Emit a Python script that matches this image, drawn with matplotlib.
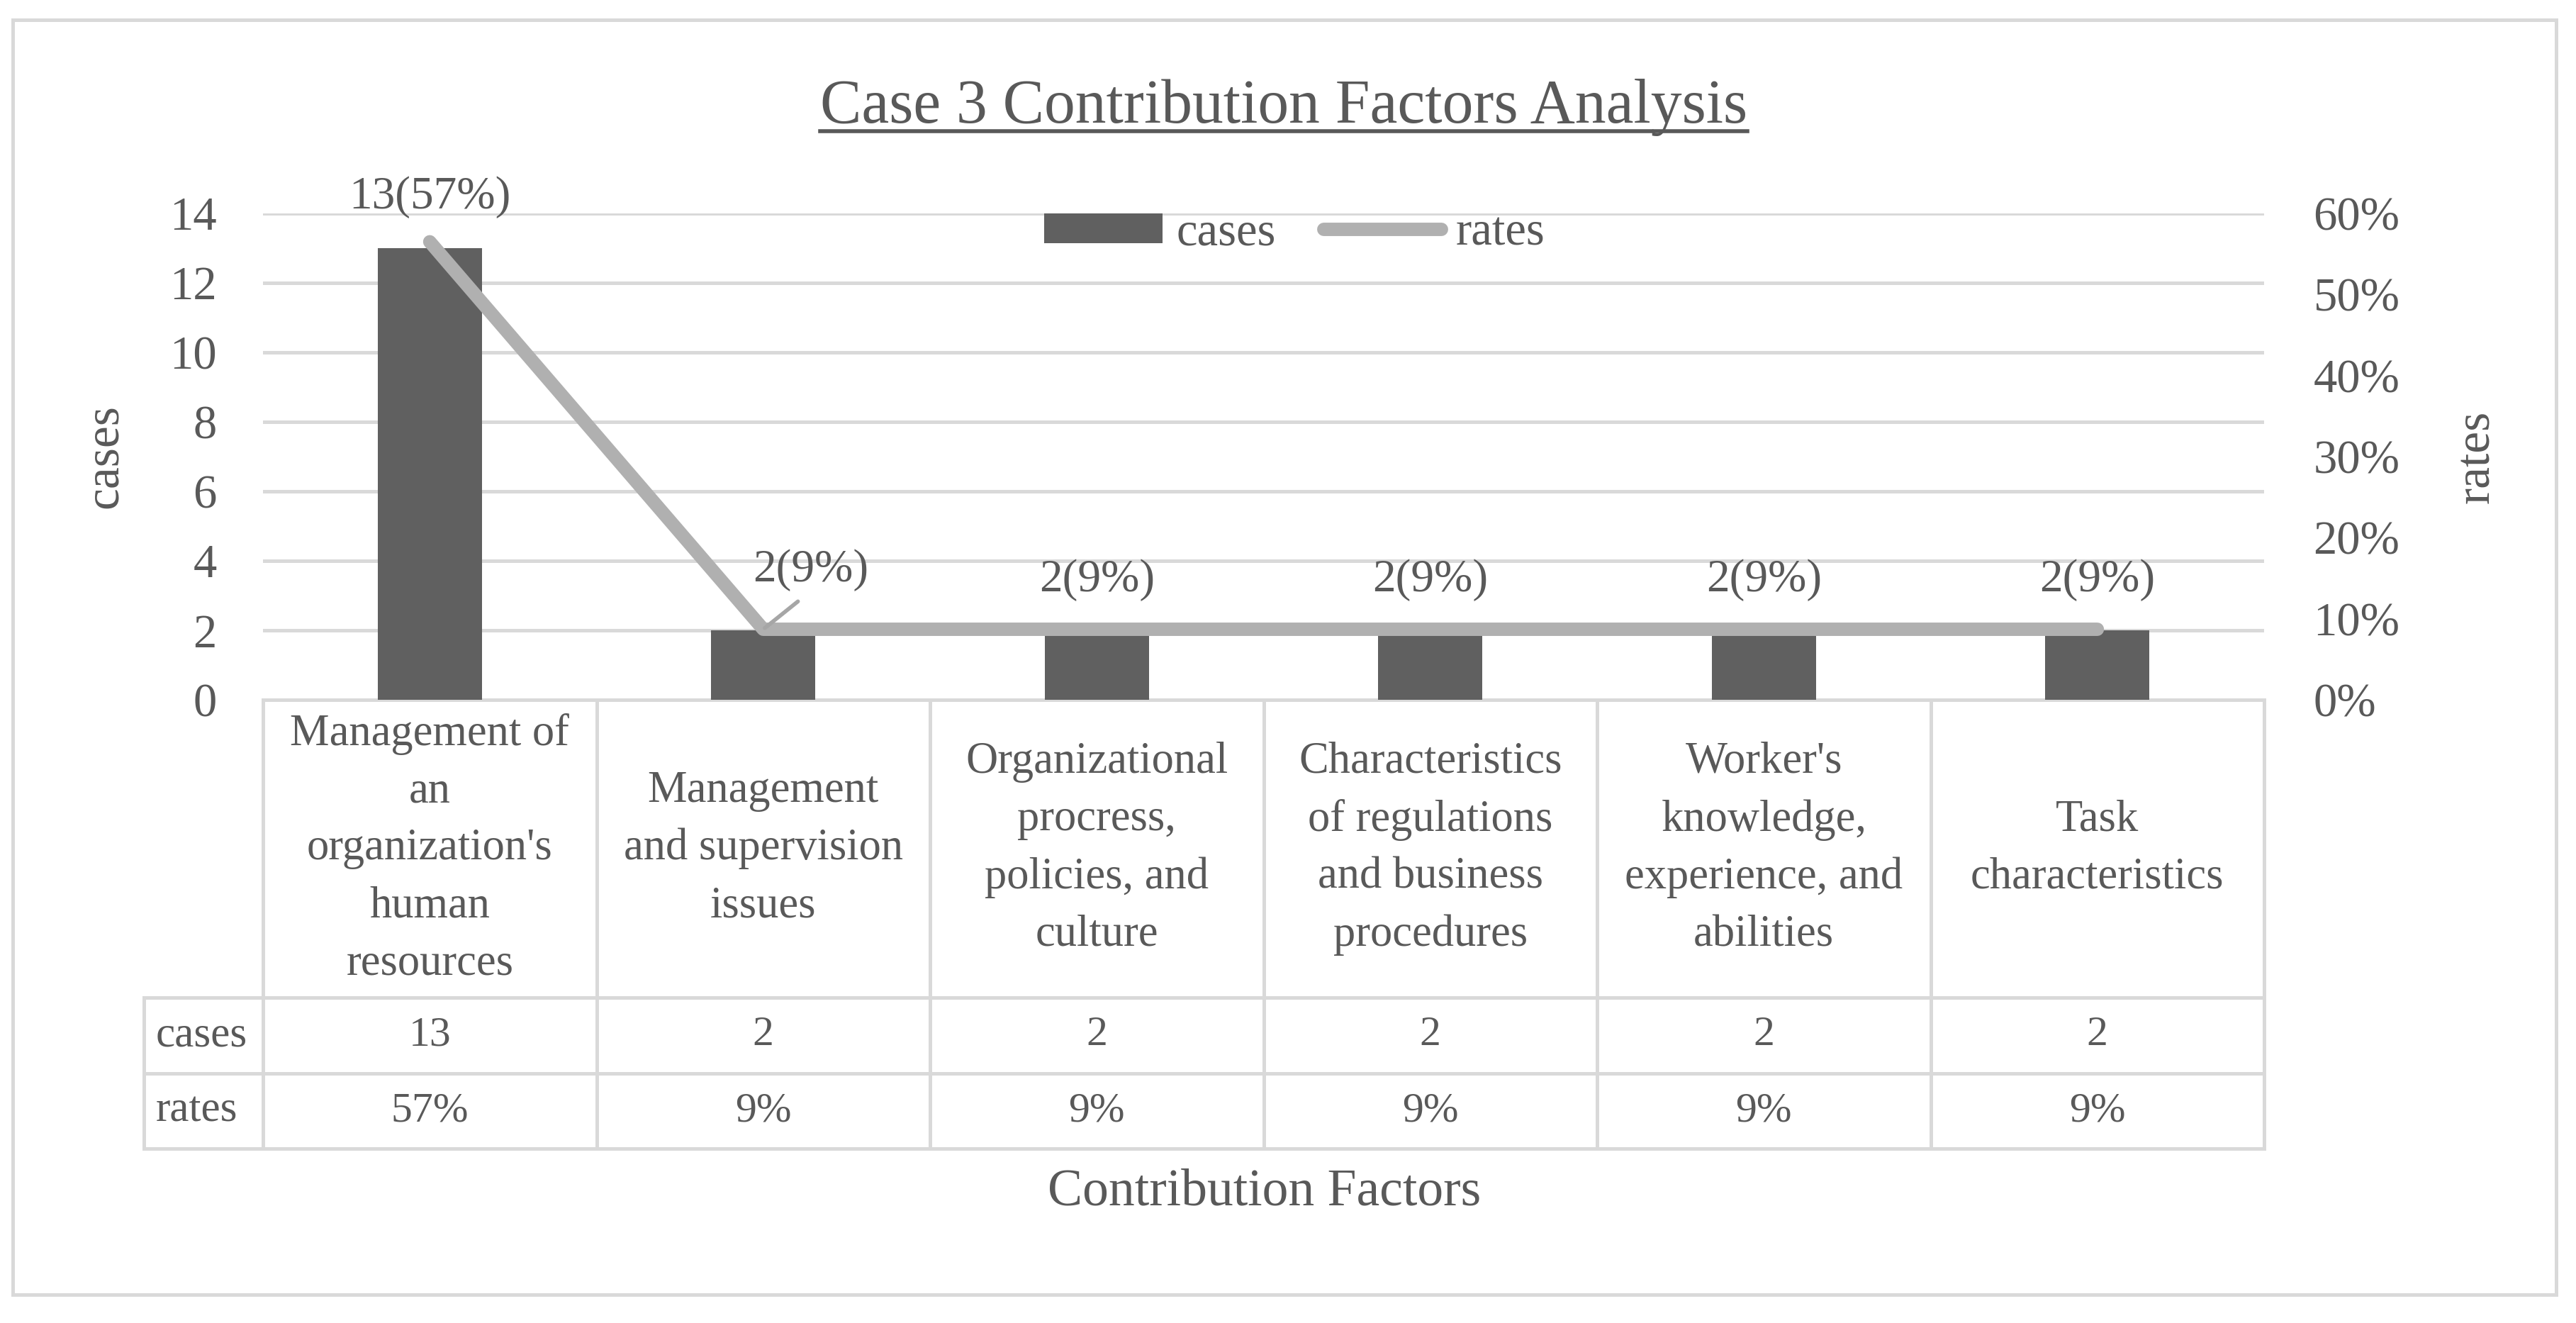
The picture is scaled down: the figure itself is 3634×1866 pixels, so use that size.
import matplotlib
matplotlib.use('Agg')
import matplotlib.pyplot as plt
import matplotlib.transforms as mtransforms
from matplotlib.patches import Patch, Rectangle
from matplotlib.lines import Line2D
import numpy as np

# ---------------- data ----------------
categories = ["Management of\nan\norganization's\nhuman\nresources",
              "Management\nand supervision\nissues",
              "Organizational\nprocress,\npolicies, and\nculture",
              "Characteristics\nof regulations\nand business\nprocedures",
              "Worker's\nknowledge,\nexperience, and\nabilities",
              "Task\ncharacteristics"]
cases = [13, 2, 2, 2, 2, 2]
rates = [0.565, 0.087, 0.087, 0.087, 0.087, 0.087]
rate_labels = ["57%", "9%", "9%", "9%", "9%", "9%"]
left_ticks = [0, 2, 4, 6, 8, 10, 12, 14]
right_ticks = [0.0, 0.1, 0.2, 0.3, 0.4, 0.5, 0.6]
right_tick_labels = ["0%", "10%", "20%", "30%", "40%", "50%", "60%"]
series_names = ["cases", "rates"]
title = "Case 3 Contribution Factors Analysis"
xlabel = "Contribution Factors"

# ---------------- style ----------------
TXT = '#595959'
BAR = '#606060'
LINE = '#b0b0b0'
GRID = '#d9d9d9'
LEADER = '#a6a6a6'
plt.rcParams['font.family'] = ['Liberation Serif', 'DejaVu Serif']
plt.rcParams['text.color'] = TXT

W, H = 3634, 1866
DPI = 200
fig = plt.figure(figsize=(W / DPI, H / DPI), dpi=DPI)
fig.patch.set_facecolor('white')

def fx(px):
    return px / W

def fy(py):
    return 1 - py / H

# outer frame
fig.add_artist(Rectangle((fx(18), fy(1826)), fx(3606) - fx(18), fy(28) - fy(1826),
                         transform=fig.transFigure, fill=False, edgecolor=GRID, lw=1.8))

# main axes
ax = fig.add_axes([fx(371), fy(987), fx(3194) - fx(371), fy(301) - fy(987)])
x = np.arange(len(categories))
ax.bar(x, cases, width=0.312, color=BAR, zorder=2)
ax.set_xlim(-0.5, len(categories) - 0.5)
ax.set_ylim(0, 14)
ax.set_yticks(left_ticks)
ax.grid(axis='y', color=GRID, lw=1.8)
ax.set_axisbelow(True)
ax.tick_params(axis='y', length=0, pad=23.5, labelsize=24, labelcolor=TXT)
ax.set_xticks([])
for s in ax.spines.values():
    s.set_visible(False)
ax.set_ylabel(series_names[0], fontsize=25, color=TXT)
ax.yaxis.set_label_coords((180 - 371) / 2823, 0.5)

ax2 = ax.twinx()
ax2.plot(x, rates, color=LINE, lw=6.8, solid_capstyle='round',
         solid_joinstyle='round', zorder=3)
ax2.set_ylim(0, 0.6)
ax2.set_yticks(right_ticks, right_tick_labels)
ax2.tick_params(axis='y', length=0, pad=25, labelsize=24, labelcolor=TXT)
for s in ax2.spines.values():
    s.set_visible(False)
ax2.set_ylabel(series_names[1], fontsize=25, color=TXT, rotation=90)
ax2.yaxis.set_label_coords((3463 - 371) / 2823, 0.5)

# data labels (above line points)
label_offsets = [(0, 22.5), (24, 30), (0, 25), (0, 25), (0, 25), (0, 25)]
for i, (c, r, rl) in enumerate(zip(cases, rates, rate_labels)):
    txt = f"{c}({rl})"
    if i == 1:
        ax2.annotate(txt, (x[i], r), xytext=label_offsets[i], textcoords='offset points',
                     ha='center', va='center', fontsize=23.5, color=TXT,
                     arrowprops=dict(arrowstyle='-', color=LEADER, lw=2,
                                     shrinkA=5, shrinkB=1, relpos=(0.5, 0.0)))
    else:
        ax2.annotate(txt, (x[i], r), xytext=label_offsets[i], textcoords='offset points',
                     ha='center', va='center', fontsize=23.5, color=TXT)

# legend
handles = [Patch(facecolor=BAR, edgecolor='none'),
           Line2D([], [], color=LINE, lw=6.8, solid_capstyle='round')]
fig.legend(handles, series_names, loc='center', bbox_to_anchor=(fx(1826), fy(329)),
           ncol=2, frameon=False, fontsize=24, handlelength=2.5, handleheight=0.6,
           handletextpad=0.3, columnspacing=1.0, labelcolor=TXT)

# ---------------- data table ----------------
tax = fig.add_axes([0, 0, 1, 1], zorder=-1)
tax.set_xlim(0, W)
tax.set_ylim(H, 0)
tax.axis('off')
blend = mtransforms.blended_transform_factory(ax.transData, tax.transData)

n = len(categories)
y_head_top, y_cases_top, y_rates_top, y_bottom = 987, 1407, 1514, 1620
label_w = 0.357
x_left = -0.5 - label_w
x_right = n - 0.5
tl = dict(color=GRID, lw=1.8, transform=blend, solid_capstyle='projecting', clip_on=False)
tax.plot([-0.5, x_right], [y_head_top, y_head_top], **tl)
for yy in (y_cases_top, y_rates_top, y_bottom):
    tax.plot([x_left, x_right], [yy, yy], **tl)
for k in range(n + 1):
    tax.plot([k - 0.5, k - 0.5], [y_head_top, y_bottom], **tl)
tax.plot([x_left, x_left], [y_cases_top, y_bottom], **tl)

cat_fs = 22.5
val_fs = 21.5
for i in range(n):
    tax.text(x[i], (y_head_top + y_cases_top) / 2, categories[i], transform=blend,
             ha='center', va='center', fontsize=cat_fs, linespacing=1.52,
             multialignment='center', color=TXT)
    tax.text(x[i], (y_cases_top + y_rates_top) / 2, str(cases[i]), transform=blend,
             ha='center', va='center', fontsize=val_fs, color=TXT)
    tax.text(x[i], (y_rates_top + y_bottom) / 2, rate_labels[i], transform=blend,
             ha='center', va='center', fontsize=val_fs, color=TXT)
tax.text(x_left + 0.036, (y_cases_top + y_rates_top) / 2, series_names[0], transform=blend,
         ha='left', va='center', fontsize=22, color=TXT)
tax.text(x_left + 0.036, (y_rates_top + y_bottom) / 2, series_names[1], transform=blend,
         ha='left', va='center', fontsize=22, color=TXT)

# x-axis title
fig.text(fx(1784), fy(1682), xlabel, ha='center', va='center', fontsize=26.5, color=TXT)

# title with underline
t = fig.text(fx(1811), fy(173), title, ha='center', va='baseline', fontsize=31.5, color=TXT)
fig.canvas.draw()
bb = t.get_window_extent(fig.canvas.get_renderer())
fw, fh = fig.bbox.width, fig.bbox.height
fig.add_artist(Line2D([bb.x0 / fw, bb.x1 / fw], [fy(185), fy(185)],
                      transform=fig.transFigure, color=TXT, lw=2.0))

fig.savefig('out.png', dpi=DPI, facecolor='white')
